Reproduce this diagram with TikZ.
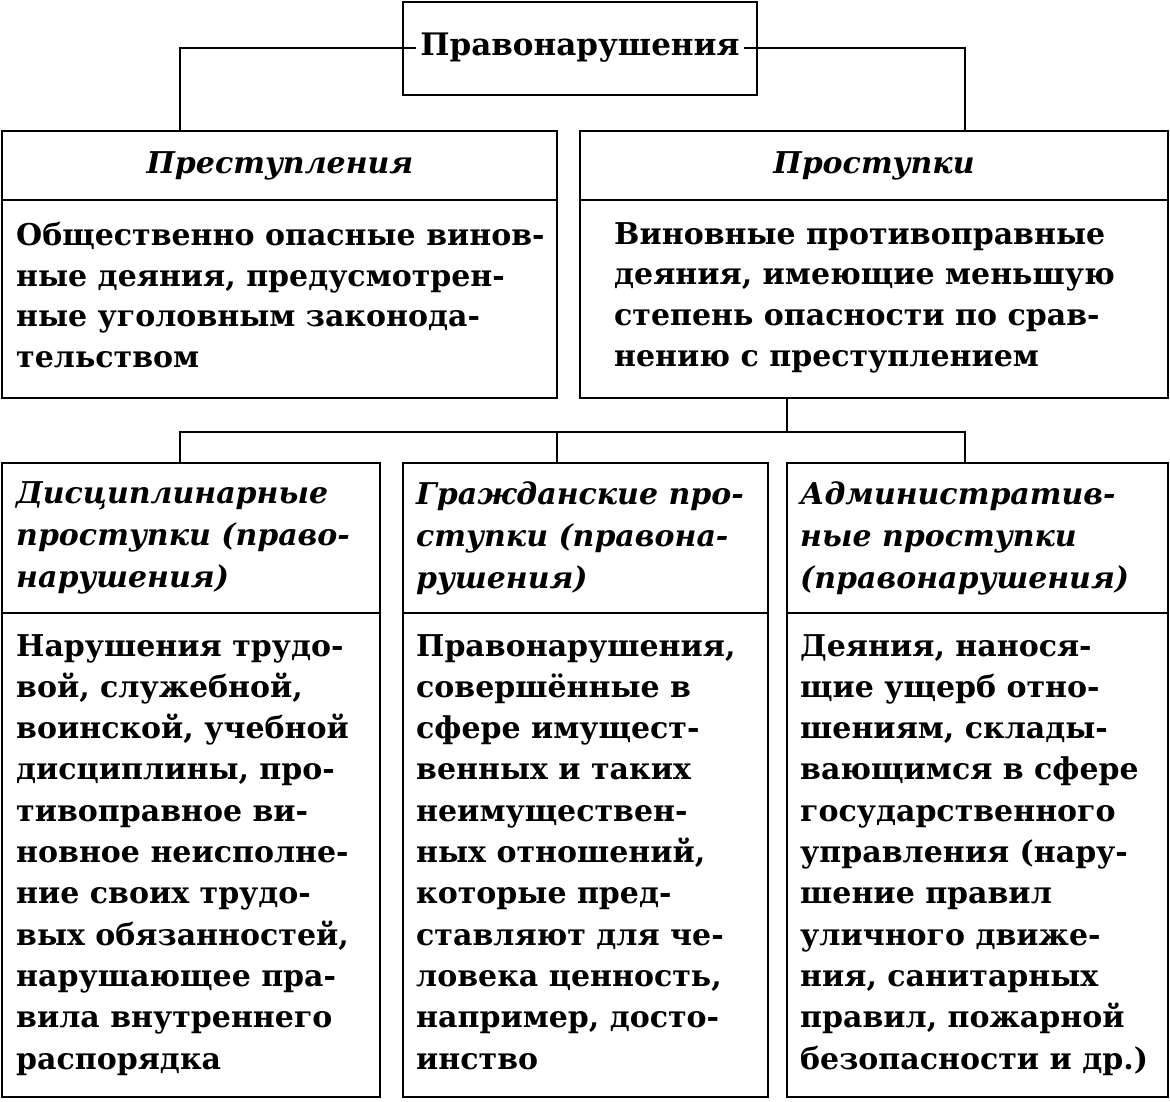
\documentclass[tikz,border=0pt]{standalone}
\usepackage{fontspec}
\setmainfont{DejaVu Serif}
\begin{document}
\begin{tikzpicture}[x=1pt,y=-1pt,
  box/.style={draw,line width=2.5pt},
  ln/.style={line width=2.5pt},
  hd/.style={font=\fontsize{30}{42}\selectfont\bfseries\itshape,anchor=center},
  bt/.style={font=\fontsize{30}{40.7}\selectfont\bfseries,align=left,anchor=north west,inner sep=0pt},
  bb/.style={font=\fontsize{30}{41.3}\selectfont\bfseries,align=left,anchor=north west,inner sep=0pt},
  bh/.style={font=\fontsize{30}{42}\selectfont\bfseries\itshape,align=left,anchor=north west,inner sep=0pt}]
\useasboundingbox (0,0) rectangle (1170,1101);
\draw[box] (403,2) rectangle (757,95);
\node[font=\fontsize{31}{35}\selectfont\bfseries] (top) at (580,48) {Правонарушения};
\draw[box] (2,131) rectangle (557,200); \draw[box] (2,200) rectangle (557,398);
\draw[box] (580,131) rectangle (1168,200); \draw[box] (580,200) rectangle (1168,398);
\node[hd] (p1) at (280,166) {Преступления};
\node[hd] (p2) at (874,166) {Проступки};
\node[bt] (b1) at (16,222) {Общественно опасные винов-\\ные деяния, предусмотрен-\\ные уголовным законода-\\тельством};
\node[bt] (b2) at (614,222) {Виновные противоправные\\деяния, имеющие меньшую\\степень опасности по срав-\\нению с преступлением};
\draw[box] (2,463) rectangle (380,613); \draw[box] (2,613) rectangle (380,1097);
\draw[box] (403,463) rectangle (768,613); \draw[box] (403,613) rectangle (768,1097);
\draw[box] (787,463) rectangle (1168,613); \draw[box] (787,613) rectangle (1168,1097);
\node[bh] (h1) at (16,481) {Дисциплинарные\\проступки (право-\\нарушения)};
\node[bh] (h2) at (416,481) {Гражданские про-\\ступки (правона-\\рушения)};
\node[bh] (h3) at (800,481) {Административ-\\ные проступки\\(правонарушения)};
\node[bb] (c1) at (16,634) {Нарушения трудо-\\вой, служебной,\\воинской, учебной\\дисциплины, про-\\тивоправное ви-\\новное неисполне-\\ние своих трудо-\\вых обязанностей,\\нарушающее пра-\\вила внутреннего\\распорядка};
\node[bb] (c2) at (416,634) {Правонарушения,\\совершённые в\\сфере имущест-\\венных и таких\\неимуществен-\\ных отношений,\\которые пред-\\ставляют для че-\\ловека ценность,\\например, досто-\\инство};
\node[bb] (c3) at (800,634) {Деяния, нанося-\\щие ущерб отно-\\шениям, склады-\\вающимся в сфере\\государственного\\управления (нару-\\шение правил\\уличного движе-\\ния, санитарных\\правил, пожарной\\безопасности и др.)};
\draw[ln] (top.west) ++(-1,0) -| (180,131);
\draw[ln] (top.east) ++(1,0) -| (965,131);
\draw[ln] (787,398) -- (787,432);
\draw[ln] (180,463) |- (965,432) -- (965,463);
\draw[ln] (557,432) -- (557,463);
\end{tikzpicture}
\end{document}
